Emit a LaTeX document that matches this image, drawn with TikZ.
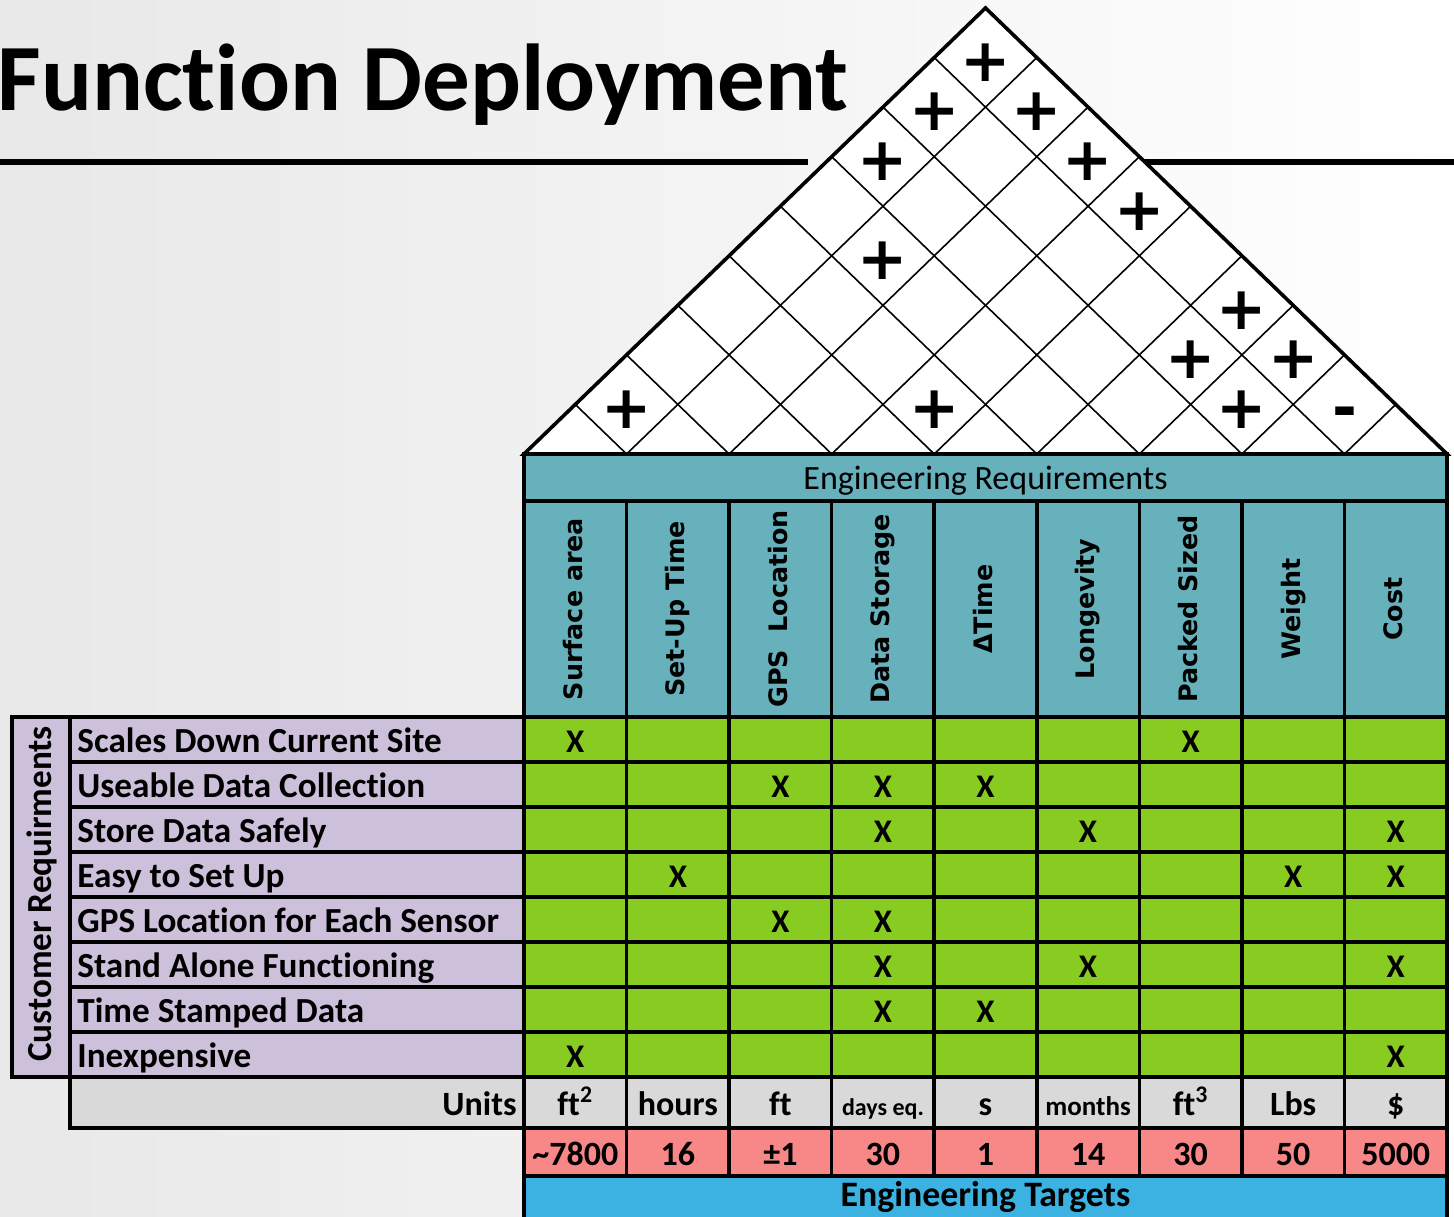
\documentclass[tikz,border=0pt]{standalone}
\usepackage{fontspec}
\setmainfont{Carlito}[Ligatures=NoCommon]
\newfontfamily\vhead{DejaVu Sans}
\usetikzlibrary{calc}

\definecolor{erteal}{HTML}{66B1BB}
\definecolor{relgreen}{HTML}{88CC22}
\definecolor{crlilac}{HTML}{CCC0DA}
\definecolor{unitgray}{HTML}{D9D9D9}
\definecolor{tgtred}{HTML}{F88787}
\definecolor{etblue}{HTML}{3BB2E2}

\newcommand{\colw}{102.556}
\newcommand{\rowh}{45}
\newcommand{\roofs}{0.96641}

\begin{document}
\begin{tikzpicture}[x=0.5pt, y=-0.5pt,
		gridline/.style={draw=black, line width=1.8pt},
		roofline/.style={draw=black, line width=0.8pt},
		title/.style={font=\bfseries\fontsize{47.5}{50}\selectfont, anchor=base west, inner sep=0pt},
		reqlabel/.style={font=\bfseries\fontsize{17.6}{20}\selectfont, anchor=base west, inner sep=0pt},
		colhead/.style={font=\vhead\bfseries\fontsize{12.7}{14}\selectfont, rotate=90, inner sep=0pt,
			execute at begin node=\vphantom{Ag}},
		xcell/.style={font=\bfseries\fontsize{16.5}{18}\selectfont, anchor=base, inner sep=0pt},
		corrmark/.style={font=\vhead\bfseries\fontsize{30}{30}\selectfont, inner sep=0pt,
			yshift=-2.5pt, execute at begin node=\vphantom{+}},
		unitcell/.style={font=\bfseries\fontsize{17}{20}\selectfont, anchor=base, inner sep=0pt},
		tgtcell/.style={font=\bfseries\fontsize{17}{20}\selectfont, anchor=base, inner sep=0pt}
		]
		\useasboundingbox (0,0) rectangle (1454,1216);
		\clip (0,0) rectangle (1454,1216);
		\shade[left color=black!9, right color=white] (0,0) rectangle (1454,1216);
		
		%--- title ----------------------------------------------------------------
		\node[title] (title) at (-3,110) {Function Deployment};
		\draw[line width=3pt] (0,162) -- (808,162);
		\draw[line width=3pt] (1140,162) -- (1454,162);
		
		%--- roof (correlation matrix) --------------------------------------------
		\fill[white] (524,454) -- (985.5,8) -- (1447,454) -- cycle;
		\foreach \k in {1,...,8}{
			\pgfmathsetmacro{\bx}{524+\k*\colw}
			\draw[roofline] (\bx,454) -- ({(\bx+1447)/2},{454-\roofs*(1447-\bx)/2});
			\draw[roofline] (\bx,454) -- ({(524+\bx)/2},{454-\roofs*(\bx-524)/2});
		}
		\draw[gridline, line join=miter] (524,454) -- (985.5,8) -- (1447,454) -- cycle;
		\foreach \i/\j/\sg [count=\n] in {1/2/+, 4/5/+, 7/8/+, 8/9/-, 6/8/+, 7/9/+, 6/9/+,
			2/6/+, 4/9/+, 1/7/+, 3/9/+, 1/8/+, 2/9/+, 1/9/+}{
			\node[corrmark] (corr-\n) at ({524+((\i+\j)/2-0.5)*\colw},{454-(\j-\i)*\colw/2*\roofs}) {\sg};
		}
		
		%--- engineering requirements ---------------------------------------------
		\draw[gridline, fill=erteal] (524,454) rectangle (1447,717);
		\draw[gridline] (524,501) -- (1447,501);
		\node[font=\fontsize{17}{19}\selectfont, anchor=base, inner sep=0pt] (erhead)
		at (985.5,489) {Engineering Requirements};
		\foreach \h [count=\c] in {Surface area, Set-Up Time, GPS\ \ Location, Data Storage,
			ΔTime, Longevity, Packed Sized, Weight, Cost}{
			\node[colhead] (eh-\c) at ({524+(\c-0.5)*\colw},609) {\h};
		}
		
		%--- customer requirements and relationship matrix ------------------------
		\draw[gridline, fill=crlilac] (12,717) rectangle (70,1077);
		\draw[gridline, fill=crlilac] (70,717) rectangle (524,1077);
		\draw[gridline, fill=relgreen] (524,717) rectangle (1447,1077);
		\foreach \r in {1,...,7}
		\draw[gridline] (70,{717+\r*\rowh}) -- (1447,{717+\r*\rowh});
		\node[font=\bfseries\fontsize{17.6}{20}\selectfont, rotate=90, inner sep=0pt] (crhead)
		at (42,894) {Customer Requirments};
		\foreach \t [count=\r] in {Scales Down Current Site, Useable Data Collection,
			Store Data Safely, Easy to Set Up, GPS Location for Each Sensor,
			Stand Alone Functioning, Time Stamped Data, Inexpensive}{
			\node[reqlabel] (cr-\r) at (77,{717+(\r-1)*\rowh+35}) {\t};
		}
		\foreach \r/\c in {1/1, 1/7, 2/3, 2/4, 2/5, 3/4, 3/6, 3/9, 4/2, 4/8, 4/9,
			5/3, 5/4, 6/4, 6/6, 6/9, 7/4, 7/5, 8/1, 8/9}{
			\node[xcell] (x-\r-\c) at ({524+(\c-0.5)*\colw},{717+(\r-1)*\rowh+35}) {X};
		}
		
		%--- units and targets ----------------------------------------------------
		\draw[gridline, fill=unitgray] (70,1077) rectangle (1447,1128);
		\draw[gridline, fill=tgtred] (524,1128) rectangle (1447,1176);
		\draw[gridline, fill=etblue] (524,1176) rectangle (1447,1240);
		\draw[gridline] (524,1077) -- (524,1128);
		\foreach \k in {1,...,8}
		\draw[gridline] ({524+\k*\colw},501) -- ({524+\k*\colw},1176);
		\node[unitcell, anchor=base east] (units) at (517,1115) {Units};
		\foreach \u [count=\c] in {ft\textsuperscript{2}, hours, ft,
			{\fontsize{12}{14}\selectfont days eq.}, s,
			{\fontsize{13.5}{16}\selectfont months}, ft\textsuperscript{3}, Lbs, \$}{
			\node[unitcell] (unit-\c) at ({524+(\c-0.5)*\colw},1115) {\u};
		}
		\foreach \v [count=\c] in {\textasciitilde 7800, 16, ±1, 30, 1, 14, 30, 50, 5000}{
			\node[tgtcell] (tgt-\c) at ({524+(\c-0.5)*\colw},1165) {\v};
		}
		\node[font=\bfseries\fontsize{17.9}{20}\selectfont, anchor=base, inner sep=0pt] (ethead)
		at (985.5,1206) {Engineering Targets};
	\end{tikzpicture}
\end{document}
